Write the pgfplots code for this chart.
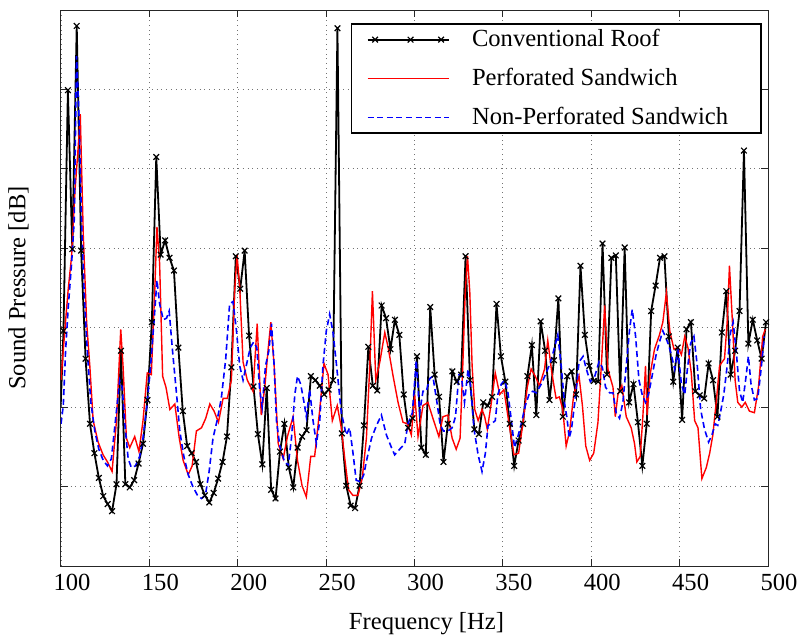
\documentclass[border=0pt]{standalone}
\usepackage{fontspec}
\setmainfont{Liberation Serif}
\usepackage{pgfplots}
\pgfplotsset{compat=1.18}
\pgfplotsset{
  legbx/.style={legend image code/.code={\draw[##1,mark=none] (0bp,0bp) -- (40.5bp,0bp);
    \draw[##1,only marks] plot coordinates {(3.8bp,0bp) (21.5bp,0bp) (36.8bp,0bp)};}},
  legln/.style={legend image code/.code={\draw[##1] (0bp,0bp) -- (40.5bp,0bp);}},
}
\begin{document}
\fontsize{12.3bp}{14.8bp}\selectfont
\begin{tikzpicture}
\begin{axis}[
  scale only axis, width=353.5bp, height=278bp,
  xmin=100, xmax=500, ymin=0, ymax=7,
  xtick={100,150,...,500}, ytick={1,2,3,4,5,6}, yticklabels={},
  /pgf/number format/assume math mode=true,
  grid=major, grid style={dotted, black!55, line width=0.45bp},
  tick align=inside, major tick length=3.5bp,
  axis line style={black!85, line width=0.5bp},
  tick style={black!85, line width=0.5bp},
  xticklabel style={xshift=5.5bp},
  xlabel={Frequency [Hz]}, ylabel={Sound Pressure [dB]},
  xlabel style={at={(axis description cs:0.5,0)}, anchor=north, yshift=-18.9bp, xshift=6bp},
  ylabel style={at={(axis description cs:-0.045,0.5)}, anchor=south, inner sep=0pt},
  legend style={at={(rel axis cs:0.9915,0.976)}, anchor=north east, draw=black, line width=0.8bp,
    inner xsep=7.5bp, inner ysep=0bp, row sep=4bp, column sep=11.3bp,
    nodes={inner sep=0pt, minimum height=15.5bp}, cells={anchor=west}},
]
\addplot[black, line width=0.9bp, mark=x, mark size=2bp, mark options={line width=0.6bp}, legbx]
table {
x y
99.8 2.00
101.4 2.96
103.9 5.99
106.4 3.99
108.9 6.80
111.4 3.97
113.9 2.61
116.4 1.79
118.9 1.42
121.4 1.11
123.9 0.88
126.4 0.78
128.9 0.69
131.4 1.03
133.9 2.71
136.4 1.03
138.9 0.99
141.4 1.08
143.9 1.29
146.4 1.54
148.9 2.09
151.4 3.07
153.9 5.15
156.4 3.92
158.9 4.10
161.4 3.88
163.9 3.72
166.4 2.75
168.9 1.95
171.4 1.51
173.9 1.42
176.4 1.31
178.9 1.03
181.4 0.89
183.9 0.80
186.4 0.92
188.9 1.10
191.4 1.31
193.9 1.63
196.4 2.50
198.9 3.90
201.4 3.49
203.9 3.97
206.4 2.90
208.9 2.26
211.4 1.66
213.9 1.28
216.4 2.24
218.9 0.96
221.4 0.85
223.9 1.44
226.4 1.79
228.9 1.24
231.4 0.99
233.9 1.49
236.4 1.63
238.9 1.71
241.4 2.39
243.9 2.34
246.4 2.27
248.9 2.16
251.4 2.22
253.9 2.34
256.4 6.77
258.9 1.67
261.4 1.01
263.9 0.76
266.4 0.73
268.9 1.01
271.4 1.77
273.9 2.76
276.4 2.27
278.9 2.21
281.4 3.28
283.9 3.12
286.4 2.73
288.9 3.10
291.4 2.91
293.9 2.16
296.4 1.74
298.9 1.86
301.4 2.64
303.9 1.49
306.4 1.40
308.9 3.26
311.4 2.41
313.9 2.13
316.4 1.31
318.9 1.79
321.4 2.45
323.9 2.32
326.4 2.41
328.9 3.90
331.4 2.34
333.9 1.72
336.4 1.66
338.9 2.06
341.4 2.02
343.9 2.13
346.4 3.30
348.9 2.64
351.4 2.32
353.9 1.79
356.4 1.26
358.9 1.58
361.4 1.79
363.9 2.39
366.4 2.78
368.9 1.90
371.4 3.08
373.9 2.71
376.4 2.09
378.9 2.59
381.4 3.37
383.9 1.88
386.4 2.39
388.9 2.45
391.4 2.16
393.9 3.78
396.4 2.91
398.9 2.52
401.4 2.33
403.9 2.32
406.4 4.06
408.9 2.41
411.4 3.88
413.9 3.91
416.4 2.20
418.9 4.01
421.4 2.06
423.9 2.29
426.4 1.81
428.9 1.26
431.4 1.79
433.9 3.21
436.4 3.53
438.9 3.88
441.4 3.90
443.9 2.89
446.4 2.32
448.9 2.75
451.4 1.84
453.9 2.98
456.4 3.07
458.9 2.20
461.4 2.15
463.9 2.11
466.4 2.55
468.9 2.34
471.4 1.88
473.9 2.94
476.4 3.46
478.9 2.41
481.4 2.71
483.9 3.21
486.4 5.23
488.9 2.80
491.4 3.10
493.9 2.84
496.4 2.61
498.9 3.07
};
\addlegendentry{Conventional Roof}
\addplot[red, line width=0.7bp, mark=none, legln]
table {
x y
100 2.34
102.2 2.98
104.1 3.49
106 3.90
107.9 4.72
109.5 5.20
110.9 5.69
112.6 4.17
114.5 3.07
116.3 2.52
118.2 1.83
121 1.56
123.8 1.40
126.3 1.31
128.9 1.19
131.4 1.83
133.8 2.98
135.1 2.52
137 1.61
138.9 1.49
141.7 1.63
144.1 1.44
146.4 1.83
148.8 2.43
151.1 2.41
153 3.44
154.3 4.27
155.8 3.81
157.5 2.39
159.4 2.25
161.6 1.97
164.4 2.04
166.9 1.61
169.1 1.33
172 1.15
174.2 1.26
176.6 1.70
179.5 1.74
181.9 1.86
184.2 2.04
186.6 1.95
189.1 1.81
191.7 2.11
194.1 2.11
196.4 2.34
198.2 3.44
199.6 3.92
201.1 3.51
203 2.57
205.4 2.34
208.6 2.20
211 3.05
213.3 1.90
215.3 2.25
217.2 2.73
218.7 3.07
220.6 2.52
222.9 1.54
225.7 1.35
228.1 1.63
231.3 1.88
233.8 1.33
236.4 1.01
238.8 0.87
241.3 1.38
243.5 1.38
246.4 1.97
248.8 2.55
251.1 2.41
253.5 1.83
256.3 2.02
258.6 1.74
260.4 1.38
262.7 0.96
265.1 0.89
268 0.89
270.4 1.10
272.8 1.61
274.7 2.52
276.2 3.46
278.1 2.34
280.4 2.57
283.2 2.94
285.1 2.75
287.9 2.39
290.7 2.06
293.5 1.81
296 1.79
298.2 1.65
300.1 2.16
302 1.63
304.8 2.02
307.6 2.06
310.4 1.86
313.8 1.63
316.1 1.88
318.9 1.90
321.3 1.61
323.6 1.47
325.8 1.61
327.4 2.57
328.7 3.44
330 3.90
331.3 3.44
332.6 2.52
334.1 1.97
336 1.83
338.2 1.97
339.7 1.88
341.2 1.72
343.5 2.06
345.7 2.43
348.2 2.16
350.6 2.22
353.5 1.79
356.3 1.40
358.9 1.42
361.3 1.79
363.8 2.25
366 2.48
368.3 2.39
370.7 2.27
373.6 2.48
375.4 2.84
377.7 2.43
380.1 2.11
382 2.13
383.9 1.97
385.8 1.51
387.8 1.70
390.1 2.16
393.1 2.39
395 2.02
396.9 1.51
399.1 1.33
401.4 1.42
403.8 1.81
405.7 2.52
407.6 3.28
409.4 2.48
412.3 2.25
413.6 1.88
415.1 2.16
417.3 2.27
419.8 1.88
422.6 1.74
424.5 1.54
425.8 1.31
427.7 1.38
429.2 1.88
430.7 2.52
431.6 1.90
433.3 2.41
435.8 2.73
438.6 2.91
440.5 3.07
442.5 3.44
444.5 2.95
446.8 2.73
449.1 2.75
451 2.66
452.9 2.89
454.7 2.75
456.6 2.43
458.5 1.83
460.4 1.74
462.6 1.10
465.1 1.24
467 1.42
468.8 1.65
470.7 2.06
472.6 2.52
474.1 2.57
475.4 2.61
476.9 3.07
478.2 3.78
480.1 2.98
481.4 2.34
482.9 2.06
485.2 2.00
487.1 2.06
489.5 1.95
492.3 1.93
494.6 2.25
497 2.89
498.5 2.98
};
\addlegendentry{Perforated Sandwich}
\addplot[blue, line width=0.8bp, mark=none, dash pattern=on 3bp off 1.8bp, legln]
table {
x y
100 1.79
101.3 2.02
102.6 2.71
104.1 3.26
106 3.81
107.5 4.36
108.8 6.42
110.1 5.73
111.6 4.36
113.1 3.44
115 2.66
116.9 2.06
119.1 1.70
121.4 1.47
123.9 1.33
126.3 1.26
128.5 1.35
130.8 1.83
133.2 2.34
134.6 2.25
136.1 1.79
138 1.35
139.8 1.24
142.1 1.26
144.5 1.38
146.4 1.61
148.8 2.06
150.7 2.52
152.6 3.07
154.3 3.60
155.8 3.30
157.9 3.10
159.7 3.12
161.2 3.21
163.1 2.71
165.4 2.16
167.2 1.70
169.5 1.38
172 1.15
174.4 1.01
177.2 0.89
179.5 0.85
181.7 0.89
183.8 1.19
186 1.61
188.3 1.83
190.7 2.11
193.2 2.61
195.4 3.30
197.3 3.33
199.2 2.98
201.1 2.52
203 2.34
204.8 2.52
207.1 2.75
209 2.82
210.8 2.75
212.3 2.25
213.8 2.00
215.7 2.52
217.6 2.71
219.1 3.05
220.6 2.52
221.9 1.83
223.8 1.51
226.2 1.33
228.5 1.26
230.4 1.61
232.3 2.16
233.8 2.39
235.6 2.29
237.5 2.06
238.8 1.88
240.7 2.22
242.6 1.83
244.5 1.54
246.4 1.83
248.2 2.52
250.1 2.96
252 3.17
253.9 2.94
255.7 2.57
258.6 1.93
261.4 1.65
263.3 1.74
265.1 1.44
267 1.08
269.5 1.06
271.3 1.15
272.9 1.33
275.7 1.61
278.5 1.77
281.3 1.90
284.1 1.65
287 1.49
288.8 1.40
291.6 1.47
294.5 1.54
296.3 1.79
298.8 1.93
301 2.59
302.9 1.93
304.8 2.20
306.7 2.20
308.6 2.36
310.4 2.39
312.7 2.06
314.6 1.77
316.4 1.70
318.9 1.70
321.3 1.74
323.2 1.88
325.1 2.41
326.4 2.41
328.3 2.06
330.3 2.48
331.8 2.25
333.7 1.72
336 1.40
338.2 1.19
340.1 1.42
341.6 1.77
343.5 1.79
345.7 1.83
347.2 2.16
349.1 2.29
351 2.34
352.9 2.18
354.8 1.83
356.6 1.49
358.5 1.63
360.4 1.79
362.7 2.02
365.1 2.18
367 2.20
368.9 2.18
371.7 2.29
374.5 2.43
377 2.57
379.2 2.75
381.1 2.91
383 2.52
384.8 2.06
386.3 1.86
387.5 1.61
388.8 1.72
390.7 2.06
393.1 2.57
395.4 2.64
397.2 2.48
399.5 2.32
402 2.39
404.4 2.57
406.3 2.50
408.1 2.25
410.4 2.18
412.3 2.18
414.1 1.93
416 1.86
417.9 2.06
419.8 2.52
421.7 2.98
423.2 3.23
425.1 2.89
427 2.34
428.8 2.16
430.7 2.06
432.6 2.18
434.4 2.39
436.7 2.66
438.6 2.82
440.5 2.96
442.3 2.87
443.8 2.78
445.3 2.66
447.2 2.48
449.1 2.71
451 2.29
452.9 2.16
454.4 2.48
456.2 2.80
458.1 2.89
460 2.52
461.9 1.97
464.1 1.72
466.4 1.56
468.3 1.65
470.1 1.79
471.6 1.77
473.1 1.93
475 2.16
476.9 2.52
478.8 2.94
480.3 3.07
482 2.71
483.9 2.20
485.7 2.06
487.6 2.39
488.9 2.64
490.4 2.29
492.3 2.09
494.2 2.11
496.1 2.48
497.9 2.89
};
\addlegendentry{Non-Perforated Sandwich\hspace*{9bp}}
\end{axis}
\pgfresetboundingbox
\path (-30.5bp,-35bp) rectangle (369.5bp,283bp);
\end{tikzpicture}
\end{document}
